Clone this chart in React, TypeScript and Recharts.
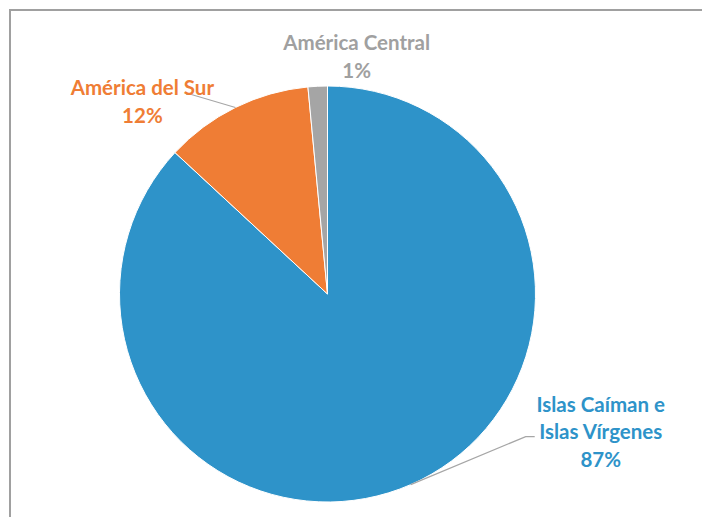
import { PieChart, Pie, Cell } from 'recharts'

const REGIONS = ['Islas Caíman e\nIslas Vírgenes', 'América del Sur', 'América Central']
const SHARES = [86.9, 11.6, 1.5]
const PCT_LABELS = ['87%', '12%', '1%']
const COLORS = ['#2E93C9', '#EF7D35', '#A5A5A5']
const TEXT_COLORS = ['#2E93C9', '#EF7D35', '#A0A0A0']

// label placement relative to the slice's outer point: elbow, line end, text baseline centre
const LABEL_LAYOUT = [
  { elbow: [115, -48], end: [124, -48], text: [190, -73], line: true },
  { elbow: [-44, -13], end: [-49, -13], text: [-93, -12], line: true },
  { elbow: [0, 0], end: [0, 0], text: [39, -36], line: false },
]

const data = REGIONS.map((name, i) => ({ name, value: SHARES[i] }))
const RAD = Math.PI / 180
const FONT = 'Lato, "Open Sans", sans-serif'

function renderLabel(props: any) {
  const { cx, cy, midAngle, outerRadius, index } = props
  const px = cx + outerRadius * Math.cos(-midAngle * RAD)
  const py = cy + outerRadius * Math.sin(-midAngle * RAD)
  const lay = LABEL_LAYOUT[index]
  const lines = [...REGIONS[index].split('\n'), PCT_LABELS[index]]
  const tx = px + lay.text[0]
  const ty = py + lay.text[1]
  return (
    <g>
      {lay.line && (
        <polyline
          points={`${px},${py} ${px + lay.elbow[0]},${py + lay.elbow[1]} ${px + lay.end[0]},${py + lay.end[1]}`}
          fill="none" stroke="#A6A6A6" strokeWidth={1.2}
        />
      )}
      <text x={tx} y={ty} textAnchor="middle" fill={TEXT_COLORS[index]}
        style={{ fontFamily: FONT, fontWeight: 700, fontSize: 20.5 }}>
        {lines.map((l, k) => (
          <tspan key={k} x={tx} dy={k === 0 ? 0 : 27.8}>{l}</tspan>
        ))}
      </text>
    </g>
  )
}

export default function App() {
  return (
    <div style={{ position: 'absolute', left: 0, top: 0, width: 702, height: 517, background: '#fff' }}>
      <div style={{
        position: 'absolute', left: 9, top: 9, right: 0, bottom: 0,
        borderTop: '2px solid #A0A0A0', borderLeft: '2px solid #A0A0A0',
      }} />
      <div style={{ position: 'absolute', left: 0, top: 0 }}>
        <PieChart width={702} height={517} margin={{ top: 0, right: 0, bottom: 0, left: 0 }}>
          <Pie
            data={data} dataKey="value" nameKey="name"
            cx={327.5} cy={294} outerRadius={208}
            startAngle={90} endAngle={-270}
            stroke="#fff" strokeWidth={1}
            label={renderLabel} labelLine={false}
            isAnimationActive={false}
          >
            {data.map((d, i) => <Cell key={d.name} fill={COLORS[i]} />)}
          </Pie>
        </PieChart>
      </div>
    </div>
  )
}
